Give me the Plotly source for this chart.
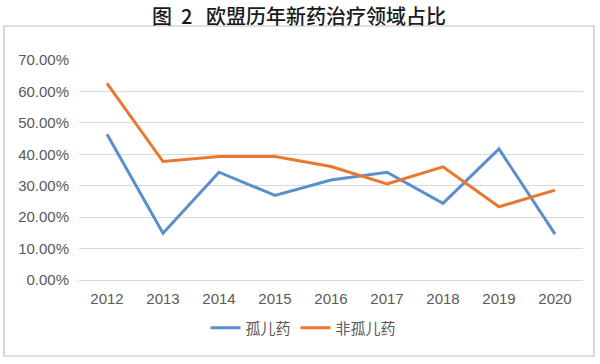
import plotly.graph_objects as go

years = ["2012", "2013", "2014", "2015", "2016", "2017", "2018", "2019", "2020"]
orphan = [0.464, 0.149, 0.343, 0.269, 0.318, 0.343, 0.244, 0.417, 0.146]
non_orphan = [0.626, 0.377, 0.393, 0.393, 0.361, 0.306, 0.360, 0.233, 0.286]
y_ticks = [0, 0.1, 0.2, 0.3, 0.4, 0.5, 0.6, 0.7]

W, H = 600, 364
L, R, T, B = 79, 17, 60, 84
PW, PH = W - L - R, H - T - B

fig = go.Figure()
fig.add_trace(go.Scatter(x=years, y=orphan, name="孤儿药", mode="lines",
                         line=dict(color="#5B8FCC", width=3)))
fig.add_trace(go.Scatter(x=years, y=non_orphan, name="非孤儿药", mode="lines",
                         line=dict(color="#E9782F", width=3)))

fig.update_layout(
    width=W, height=H,
    margin=dict(l=L, r=R, t=T, b=B, autoexpand=False),
    paper_bgcolor="white", plot_bgcolor="white",
    font=dict(family="Liberation Sans, Arial, Noto Sans CJK SC", color="#595959", size=15),
    title=dict(text="图\u00a0\u00a02\u00a0\u00a0\u00a0欧盟历年新药治疗领域占比",
               x=299 / W, xanchor="center", xref="container",
               yref="container", y=1 - 16.5 / H, yanchor="middle",
               font=dict(family="Noto Sans CJK SC", size=20, color="#1a1a1a", weight=500)),
    showlegend=True,
    legend=dict(orientation="h", x=(303.5 - L) / PW, xanchor="center",
                y=-48 / PH, yanchor="middle",
                font=dict(family="Noto Sans CJK SC", size=15, color="#595959"),
                itemwidth=30, tracegroupgap=0),
    xaxis=dict(type="category", showgrid=False, showline=False, ticks="",
               tickfont=dict(size=15), range=[-0.5, 8.5], ticklabelstandoff=8),
    yaxis=dict(range=[0, 0.7], tickvals=y_ticks, tickformat=".2%",
               showgrid=True, gridcolor="#D9D9D9", gridwidth=1.3,
               zeroline=True, zerolinecolor="#D9D9D9", zerolinewidth=1.3,
               showline=False, ticks="", tickfont=dict(size=15), ticklabelstandoff=9),
)

fig.add_shape(type="rect", xref="paper", yref="paper",
              x0=(4 - L) / PW, x1=(594 - L) / PW,
              y0=-(356 - (T + PH)) / PH, y1=1 + (T - 26) / PH,
              line=dict(color="#BFBFBF", width=1.2), fillcolor="rgba(0,0,0,0)", layer="below")

fig.write_html("out.html", config={"displayModeBar": False},
               post_script="document.body.style.margin='0';")
